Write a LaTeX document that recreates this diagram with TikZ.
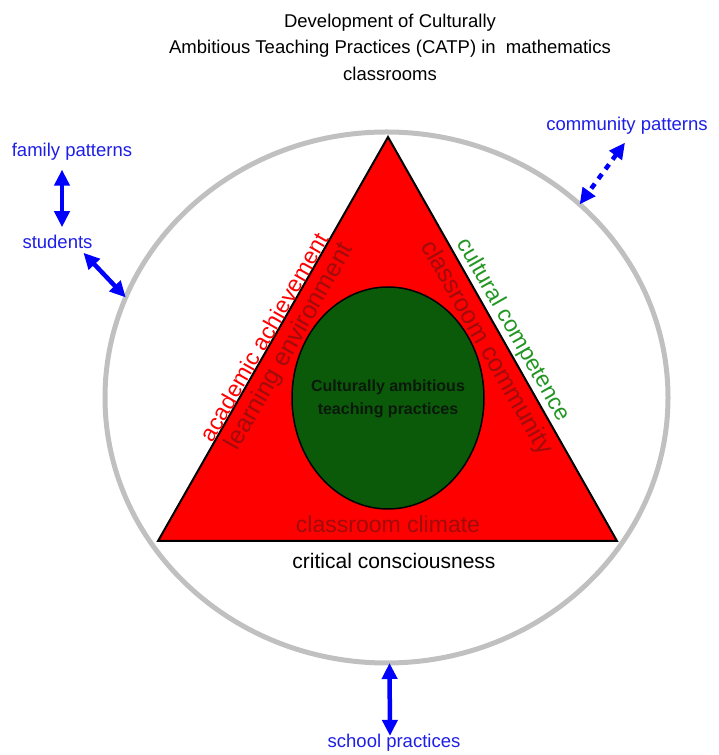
\documentclass[tikz,border=0pt]{standalone}
\usepackage{fontspec}
\setmainfont{Liberation Sans}
\usetikzlibrary{arrows.meta,shapes.geometric}
\definecolor{ringgray}{RGB}{192,192,192}
\definecolor{trired}{RGB}{255,0,0}
\definecolor{coregreen}{RGB}{10,90,10}
\definecolor{coretxt}{RGB}{10,25,10}
\definecolor{darkredtxt}{RGB}{160,12,12}
\definecolor{greentxt}{RGB}{34,150,34}
\definecolor{labelblue}{RGB}{30,30,230}
\definecolor{arrowblue}{RGB}{0,0,255}
\tikzset{
  lbl/.style={inner sep=0pt, outer sep=0pt},
  bluelbl/.style={lbl, text=labelblue, font=\fontsize{18.5}{22}\selectfont},
  sidelbl/.style={lbl, font=\fontsize{23}{26}\selectfont},
  innerlbl/.style={lbl, text=darkredtxt, font=\fontsize{25}{28}\selectfont},
  dblarrow/.style={draw=arrowblue, line width=4.5pt,
    {Triangle[length=16pt,width=15pt]}-{Triangle[length=16pt,width=15pt]}},
  dotarrow/.style={dblarrow, dash pattern=on 6pt off 6pt}
}
\begin{document}
\begin{tikzpicture}[x=1pt,y=1pt]
\useasboundingbox (0,0) rectangle (718,755);
% title
\node[lbl, align=center, font=\fontsize{18.5}{26.5}\selectfont] (title) at (390,708)
  {Development of Culturally\\Ambitious Teaching Practices (CATP) in\ \ mathematics\\classrooms};
% outer ring
\node[ellipse, draw=ringgray, line width=5pt, inner sep=0pt, outer sep=0pt,
  minimum width=563pt, minimum height=531pt] (ring) at (386.5,357.5) {};
% triangle
\draw[fill=trired, draw=black, line width=2pt, line join=miter]
  (388,618) -- (158,214) -- (617,214) -- cycle;
% core ellipse
\draw[draw=black, line width=1.5pt, fill=coregreen] (388,357) ellipse [x radius=96, y radius=111];
\node[lbl, align=center, font=\bfseries\fontsize{16}{23}\selectfont, text=coretxt] (core) at (388,356.5)
  {Culturally ambitious\\teaching practices};
% side labels
\node[sidelbl, text=trired, rotate=60.3] (acad) at (264,418) {academic achievement};
\node[innerlbl, rotate=60.3] (learn) at (290,408) {learning environment};
\node[sidelbl, text=greentxt, rotate=-60.3] (cult) at (513,425) {cultural competence};
\node[innerlbl, rotate=-60.3] (comm) at (486,407) {classroom community};
\node[lbl, text=darkredtxt, font=\fontsize{23}{26}\selectfont] (climate) at (388,231) {classroom climate};
\node[lbl, text=black, font=\fontsize{21}{24}\selectfont] (crit) at (394,194) {critical consciousness};
% blue labels
\node[bluelbl] (family) at (72,603) {family patterns};
\node[bluelbl] (students) at (57.5,513) {students};
\node[bluelbl] (community) at (627,629) {community patterns};
\node[bluelbl] (school) at (394,12) {school practices};
% connectors
\draw[dblarrow] ([xshift=-10pt,yshift=-9pt]family.south) -- ([xshift=4.5pt,yshift=8pt]students.north);
\draw[dblarrow] ([xshift=-9pt,yshift=-4pt]students.south east) -- (ring.159);
\draw[dotarrow] ([xshift=-2pt,yshift=-8pt]community.south) -- (ring.45);
\draw[dblarrow] ([xshift=3pt]ring.south) -- ([xshift=-4pt,yshift=-1.5pt]school.north);
\end{tikzpicture}
\end{document}
